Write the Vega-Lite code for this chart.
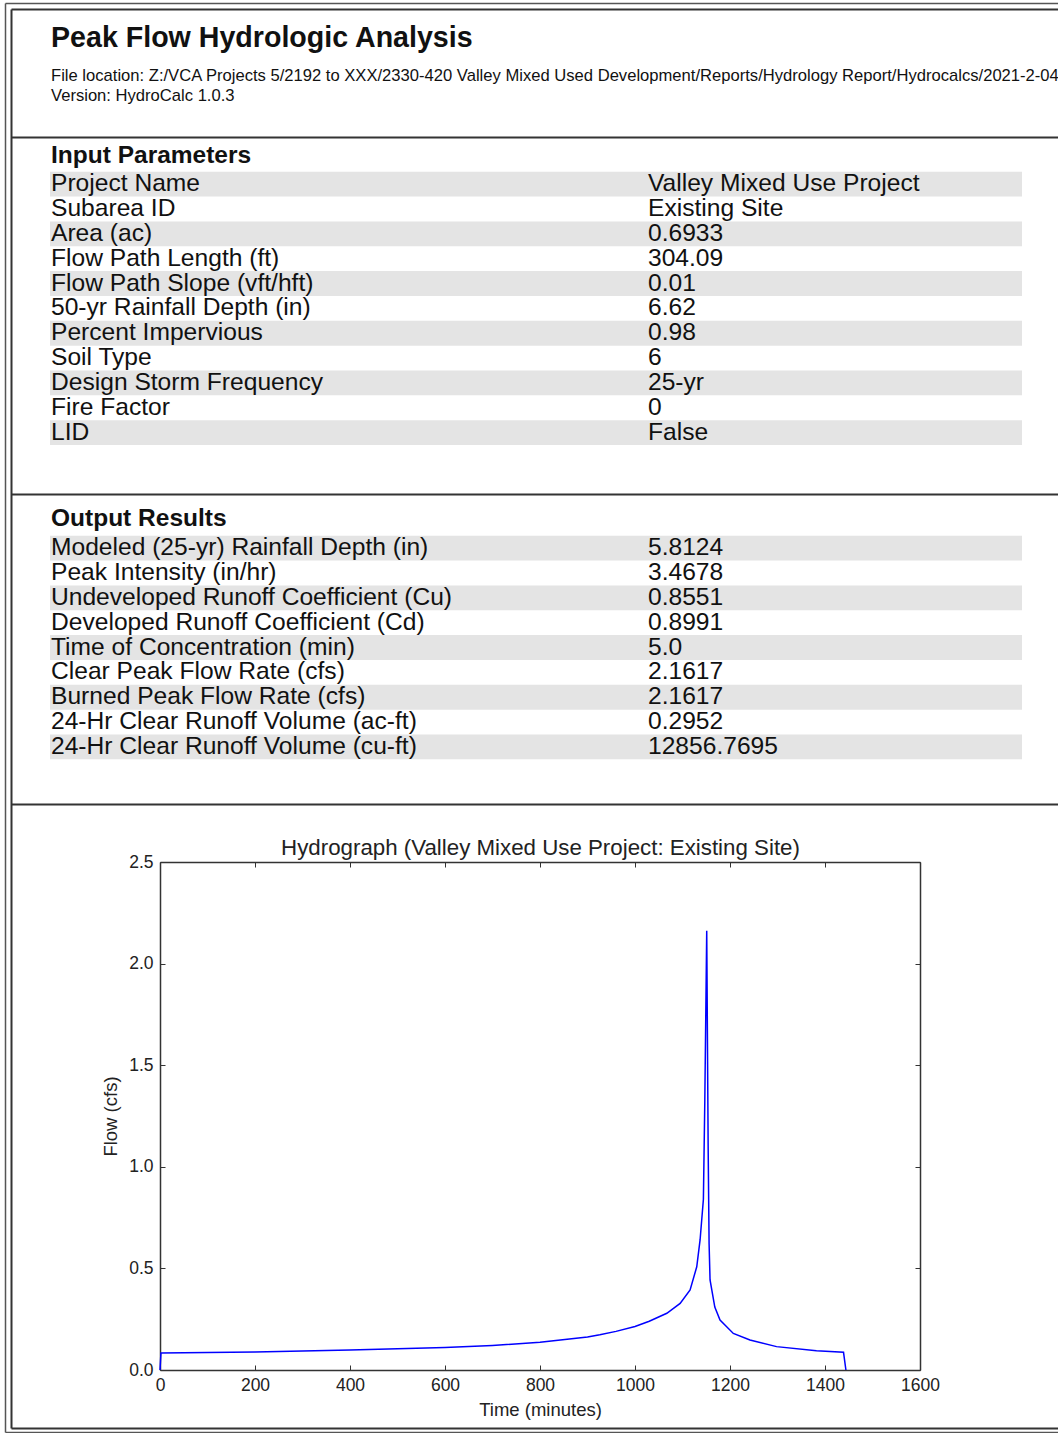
{
  "$schema": "https://vega.github.io/schema/vega-lite/v6.json",
  "padding": {"left": 2, "top": 0, "right": 0, "bottom": 0},
  "background": "white",
  "bounds": "flush",
  "spacing": 0,
  "config": {
    "view": {"stroke": null},
    "font": "Liberation Sans",
    "axis": {"grid": false},
    "title": {"font": "Liberation Sans", "subtitleFont": "Liberation Sans"}
  },
  "datasets": {
    "inputs": [
      {"row": 1, "param": "Project Name", "value": "Valley Mixed Use Project"},
      {"row": 2, "param": "Subarea ID", "value": "Existing Site"},
      {"row": 3, "param": "Area (ac)", "value": "0.6933"},
      {"row": 4, "param": "Flow Path Length (ft)", "value": "304.09"},
      {"row": 5, "param": "Flow Path Slope (vft/hft)", "value": "0.01"},
      {"row": 6, "param": "50-yr Rainfall Depth (in)", "value": "6.62"},
      {"row": 7, "param": "Percent Impervious", "value": "0.98"},
      {"row": 8, "param": "Soil Type", "value": "6"},
      {"row": 9, "param": "Design Storm Frequency", "value": "25-yr"},
      {"row": 10, "param": "Fire Factor", "value": "0"},
      {"row": 11, "param": "LID", "value": "False"}
    ],
    "outputs": [
      {"row": 1, "param": "Modeled (25-yr) Rainfall Depth (in)", "value": "5.8124"},
      {"row": 2, "param": "Peak Intensity (in/hr)", "value": "3.4678"},
      {"row": 3, "param": "Undeveloped Runoff Coefficient (Cu)", "value": "0.8551"},
      {"row": 4, "param": "Developed Runoff Coefficient (Cd)", "value": "0.8991"},
      {"row": 5, "param": "Time of Concentration (min)", "value": "5.0"},
      {"row": 6, "param": "Clear Peak Flow Rate (cfs)", "value": "2.1617"},
      {"row": 7, "param": "Burned Peak Flow Rate (cfs)", "value": "2.1617"},
      {"row": 8, "param": "24-Hr Clear Runoff Volume (ac-ft)", "value": "0.2952"},
      {"row": 9, "param": "24-Hr Clear Runoff Volume (cu-ft)", "value": "12856.7695"}
    ],
    "hydro": [
      {"t": 0, "flow": 0},
      {"t": 2, "flow": 0.084},
      {"t": 100, "flow": 0.086},
      {"t": 200, "flow": 0.089},
      {"t": 300, "flow": 0.093},
      {"t": 400, "flow": 0.098},
      {"t": 500, "flow": 0.104},
      {"t": 600, "flow": 0.111},
      {"t": 700, "flow": 0.121},
      {"t": 800, "flow": 0.136},
      {"t": 900, "flow": 0.162},
      {"t": 926, "flow": 0.173},
      {"t": 960, "flow": 0.19},
      {"t": 1000, "flow": 0.214},
      {"t": 1030, "flow": 0.24},
      {"t": 1067, "flow": 0.279},
      {"t": 1095, "flow": 0.328},
      {"t": 1116, "flow": 0.394},
      {"t": 1130, "flow": 0.508},
      {"t": 1137, "flow": 0.64},
      {"t": 1144, "flow": 0.84},
      {"t": 1147, "flow": 1.33},
      {"t": 1151, "flow": 2.1617},
      {"t": 1154, "flow": 1.1},
      {"t": 1156, "flow": 0.62},
      {"t": 1158, "flow": 0.443},
      {"t": 1168, "flow": 0.31},
      {"t": 1179, "flow": 0.246},
      {"t": 1207, "flow": 0.18},
      {"t": 1242, "flow": 0.148},
      {"t": 1298, "flow": 0.115},
      {"t": 1382, "flow": 0.095},
      {"t": 1439, "flow": 0.087},
      {"t": 1444, "flow": 0}
    ],
    "frame": [{"u": 0}]
  },
  "vconcat": [
    {
      "width": 972,
      "height": 128,
      "title": {
        "text": "Peak Flow Hydrologic Analysis",
        "subtitle": ["File location: Z:/VCA Projects 5/2192 to XXX/2330-420 Valley Mixed Used Development/Reports/Hydrology Report/Hydrocalcs/2021-2-04", "Version: HydroCalc 1.0.3"],
        "anchor": "start",
        "frame": "group",
        "orient": "top",
        "offset": -96,
        "dx": 1,
        "fontSize": 28.6,
        "fontWeight": "bold",
        "color": "#111",
        "subtitleFontSize": 16.6,
        "subtitleLineHeight": 20,
        "subtitlePadding": 16,
        "subtitleColor": "#111"
      },
      "data": {"name": "frame"},
      "mark": {"type": "point", "opacity": 0},
      "encoding": {}
    },
    {
      "width": 972,
      "height": 357,
      "title": {
        "text": "Input Parameters",
        "anchor": "start",
        "frame": "group",
        "orient": "top",
        "offset": -31.6,
        "dx": 1,
        "fontSize": 24.5,
        "fontWeight": "bold",
        "color": "#111"
      },
      "data": {"name": "inputs"},
      "layer": [
        {
          "transform": [{"filter": "datum.row % 2 === 1"}],
          "mark": {"type": "rect", "color": "#e4e4e4"},
          "encoding": {
            "y": {"field": "row", "type": "ordinal", "scale": {"range": [34.7, 308.05], "paddingInner": 0, "paddingOuter": 0}, "axis": null}
          }
        },
        {
          "transform": [{"fold": ["param", "value"], "as": ["column", "text"]}],
          "mark": {"type": "text", "align": "left", "baseline": "middle", "fontSize": 24.6, "color": "#111"},
          "encoding": {
            "x": {"field": "column", "type": "nominal", "scale": {"type": "point", "domain": ["param", "value"], "range": [1, 598], "padding": 0}, "axis": null},
            "y": {"field": "row", "type": "ordinal", "axis": null},
            "text": {"field": "text"}
          }
        }
      ]
    },
    {
      "width": 972,
      "height": 310,
      "title": {
        "text": "Output Results",
        "anchor": "start",
        "frame": "group",
        "orient": "top",
        "offset": -37.6,
        "dx": 1,
        "fontSize": 24.5,
        "fontWeight": "bold",
        "color": "#111"
      },
      "data": {"name": "outputs"},
      "layer": [
        {
          "transform": [{"filter": "datum.row % 2 === 1"}],
          "mark": {"type": "rect", "color": "#e4e4e4"},
          "encoding": {
            "y": {"field": "row", "type": "ordinal", "scale": {"range": [41.7, 265.35], "paddingInner": 0, "paddingOuter": 0}, "axis": null}
          }
        },
        {
          "transform": [{"fold": ["param", "value"], "as": ["column", "text"]}],
          "mark": {"type": "text", "align": "left", "baseline": "middle", "fontSize": 24.6, "color": "#111"},
          "encoding": {
            "x": {"field": "column", "type": "nominal", "scale": {"type": "point", "domain": ["param", "value"], "range": [1, 598], "padding": 0}, "axis": null},
            "y": {"field": "row", "type": "ordinal", "axis": null},
            "text": {"field": "text"}
          }
        }
      ]
    },
    {
      "bounds": "flush",
      "spacing": 0,
      "hconcat": [
        {
          "width": 870,
          "height": 624,
          "data": {"name": "hydro"},
          "mark": {"type": "line", "color": "#0000ff", "strokeWidth": 1.5},
          "encoding": {
            "x": {
              "field": "t", "type": "quantitative",
              "scale": {"domain": [0, 1600], "range": [110, 870], "nice": false, "zero": false},
              "axis": {"orient": "bottom", "offset": -58, "values": [0, 200, 400, 600, 800, 1000, 1200, 1400, 1600], "format": "d", "tickSize": -5, "tickColor": "#333", "domainColor": "#333", "domainWidth": 1.5, "labelFontSize": 17.5, "labelColor": "#222", "labelPadding": 11, "labelFlush": false, "labelOverlap": false, "title": "Time (minutes)", "titleFontSize": 18.5, "titleFontWeight": "normal", "titleColor": "#222", "titlePadding": 7}
            },
            "y": {
              "field": "flow", "type": "quantitative",
              "scale": {"domain": [0, 2.5], "range": [566, 58], "nice": false},
              "axis": {"orient": "left", "offset": -110, "values": [0, 0.5, 1, 1.5, 2, 2.5], "format": ".1f", "tickSize": -5, "tickColor": "#333", "domainColor": "#333", "domainWidth": 1.5, "labelFontSize": 17.5, "labelColor": "#222", "labelPadding": 12, "labelFlush": false, "labelOverlap": false, "title": "Flow (cfs)", "titleFontSize": 18.5, "titleFontWeight": "normal", "titleColor": "#222", "titlePadding": 8}
            }
          }
        },
        {
          "width": 1,
          "height": 623,
          "data": {"name": "frame"},
          "mark": {"type": "point", "opacity": 0},
          "encoding": {
            "x": {"field": "u", "type": "quantitative", "scale": {"domain": [0, 1600], "range": [-760, 0], "nice": false, "zero": false},
              "axis": {"orient": "top", "offset": -58, "values": [0, 200, 400, 600, 800, 1000, 1200, 1400, 1600], "tickSize": -5, "tickColor": "#333", "domainColor": "#333", "domainWidth": 1.5, "labels": false, "title": "Hydrograph (Valley Mixed Use Project: Existing Site)", "titleFontSize": 22.3, "titleFontWeight": "normal", "titleColor": "#222", "titlePadding": 2}},
            "y": {"field": "u", "type": "quantitative", "scale": {"domain": [0, 2.5], "range": [566, 58], "nice": false},
              "axis": {"orient": "left", "offset": 0, "values": [0, 0.5, 1, 1.5, 2, 2.5], "tickSize": 5, "tickColor": "#333", "domainColor": "#333", "domainWidth": 1.5, "labels": false, "title": null}}
          }
        },
        {
          "width": 1,
          "height": 623,
          "data": {"name": "frame"},
          "mark": {"type": "point", "opacity": 0},
          "encoding": {
            "x": {"field": "u", "type": "quantitative", "scale": {"domain": [0, 1], "range": [-910, 137]}, "axis": {"orient": "top", "offset": 795, "domainColor": "#333", "domainWidth": 2, "ticks": false, "labels": false, "title": null}},
            "y": {"field": "u", "type": "quantitative", "scale": {"domain": [0, 1], "range": [-795, 624]}, "axis": {"orient": "left", "offset": 910, "domainColor": "#333", "domainWidth": 2, "ticks": false, "labels": false, "title": null}}
          }
        },
        {
          "width": 1,
          "height": 623,
          "data": {"name": "frame"},
          "mark": {"type": "point", "opacity": 0},
          "encoding": {
            "x": {"field": "u", "type": "quantitative", "scale": {"domain": [0, 1], "range": [-917, 136]}, "axis": {"orient": "top", "offset": 801, "domainColor": "#555", "domainWidth": 1.5, "ticks": false, "labels": false, "title": null}},
            "y": {"field": "u", "type": "quantitative", "scale": {"domain": [0, 1], "range": [-801, 628]}, "axis": {"orient": "left", "offset": 917, "domainColor": "#555", "domainWidth": 1.5, "ticks": false, "labels": false, "title": null}}
          }
        },
        {
          "width": 1,
          "height": 623,
          "data": {"name": "frame"},
          "mark": {"type": "point", "opacity": 0},
          "encoding": {
            "x": {"field": "u", "type": "quantitative", "scale": {"domain": [0, 1], "range": [-912, 135]}, "axis": {"orient": "top", "offset": 667, "domainColor": "#333", "domainWidth": 2, "ticks": false, "labels": false, "title": null}}
          }
        },
        {
          "width": 1,
          "height": 623,
          "data": {"name": "frame"},
          "mark": {"type": "point", "opacity": 0},
          "encoding": {
            "x": {"field": "u", "type": "quantitative", "scale": {"domain": [0, 1], "range": [-913, 134]}, "axis": {"orient": "top", "offset": 310, "domainColor": "#333", "domainWidth": 2, "ticks": false, "labels": false, "title": null}}
          }
        },
        {
          "width": 1,
          "height": 623,
          "data": {"name": "frame"},
          "mark": {"type": "point", "opacity": 0},
          "encoding": {
            "x": {"field": "u", "type": "quantitative", "scale": {"domain": [0, 1], "range": [-914, 133]}, "axis": {"orient": "top", "offset": 0, "domainColor": "#333", "domainWidth": 2, "ticks": false, "labels": false, "title": null}}
          }
        },
        {
          "width": 1,
          "height": 623,
          "data": {"name": "frame"},
          "mark": {"type": "point", "opacity": 0},
          "encoding": {
            "x": {"field": "u", "type": "quantitative", "scale": {"domain": [0, 1], "range": [-915, 132]}, "axis": {"orient": "top", "offset": -624, "domainColor": "#333", "domainWidth": 2, "ticks": false, "labels": false, "title": null}}
          }
        },
        {
          "width": 1,
          "height": 623,
          "data": {"name": "frame"},
          "mark": {"type": "point", "opacity": 0},
          "encoding": {
            "x": {"field": "u", "type": "quantitative", "scale": {"domain": [0, 1], "range": [-922, 131]}, "axis": {"orient": "top", "offset": -628, "domainColor": "#555", "domainWidth": 1.5, "ticks": false, "labels": false, "title": null}}
          }
        }
      ]
    }
  ]
}
